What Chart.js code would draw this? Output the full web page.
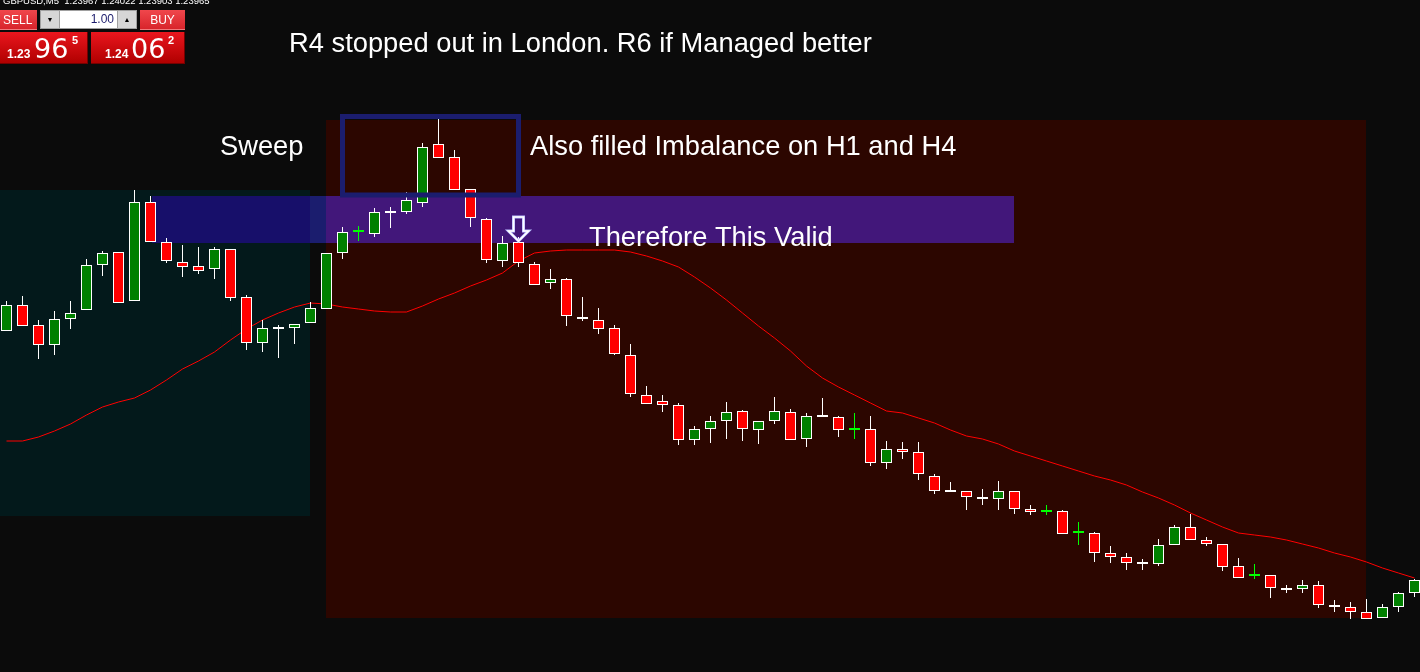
<!DOCTYPE html>
<html>
<head>
<meta charset="utf-8">
<title>GBPUSD,M5</title>
<script src="https://cdn.jsdelivr.net/npm/chart.js@4.4.1/dist/chart.umd.min.js"></script>
<style>
  html, body { margin: 0; padding: 0; background: #0b0b0b; overflow: hidden; }
  #stage { position: relative; width: 1420px; height: 672px; background: #0b0b0b; overflow: hidden; }
  #chart { position: absolute; left: 0; top: 0; }
  #panel { position: absolute; left: 0; top: 0; width: 190px; height: 66px; font-family: "Liberation Sans", Arial, sans-serif; }
  #panel div, #panel span { position: absolute; box-sizing: border-box; white-space: pre; }
  .hdr { left: 3px; top: -5px; color: #fff; font-size: 9.5px; line-height: 12px; }
  .btn { top: 10px; height: 20px; color: #fff; font-size: 12px; line-height: 20px;
         background: linear-gradient(#f0474c, #d8242b); border-bottom: 1px solid #f07a7d; }
  .sell { left: 0; width: 37px; padding-left: 3px; }
  .buy { left: 140px; width: 45px; text-align: center; }
  .lot { left: 40px; top: 10px; width: 97px; height: 19px; background: #fff; border: 1px solid #a0a0a0; }
  .lot .dn, .lot .up { top: 0; width: 19px; height: 17px; background: #d6d6d6; color: #000;
         font-size: 7px; line-height: 17px; text-align: center; }
  .lot .dn { left: 0; border-right: 1px solid #a0a0a0; }
  .lot .up { right: 0; border-left: 1px solid #a0a0a0; }
  .lot .val { right: 22px; top: 0; font-size: 12px; line-height: 17px; color: #1c1c6c; }
  .px { top: 32px; height: 32px; color: #fff; background: linear-gradient(#ea161e, #b00000);
        border-right: 1px solid #760000; border-bottom: 1px solid #760000; }
  .bid { left: 0; width: 88px; }
  .ask { left: 91px; width: 94px; }
  .px .s { top: 16px; font-size: 12px; font-weight: bold; line-height: 12px; }
  .px .b { top: 3px; font-family: "DejaVu Sans", sans-serif; font-size: 27px; line-height: 27px; }
  .px .p { top: 3px; font-size: 11px; font-weight: bold; line-height: 11px; }
</style>
</head>
<body>
<div id="stage">
  <canvas id="chart" width="1420" height="672"></canvas>
  <div id="panel">
    <div class="hdr">GBPUSD,M5  1.23967 1.24022 1.23903 1.23965</div>
    <div class="btn sell">SELL</div>
    <div class="lot"><span class="dn">&#9660;</span><span class="val">1.00</span><span class="up">&#9650;</span></div>
    <div class="btn buy">BUY</div>
    <div class="px bid"><span class="s" style="left:7px">1.23</span><span class="b" style="left:34px">96</span><span class="p" style="left:72px">5</span></div>
    <div class="px ask"><span class="s" style="left:14px">1.24</span><span class="b" style="left:40px">06</span><span class="p" style="left:77px">2</span></div>
  </div>
</div>
<script>
// GBPUSD M5 bars, London session
const opens = [
  1.24214, 1.24240, 1.24220, 1.24200, 1.24226, 1.24235, 1.24280, 1.24293, 1.24244, 1.24343,
  1.24303, 1.24283, 1.24279, 1.24276, 1.24296, 1.24248, 1.24202, 1.24216, 1.24217, 1.24222,
  1.24236, 1.24292, 1.24313, 1.24311, 1.24332, 1.24333, 1.24342, 1.24401, 1.24388, 1.24356,
  1.24326, 1.24284, 1.24303, 1.24281, 1.24262, 1.24266, 1.24228, 1.24225, 1.24217, 1.24190,
  1.24150, 1.24144, 1.24140, 1.24105, 1.24116, 1.24124, 1.24134, 1.24115, 1.24124, 1.24133,
  1.24106, 1.24128, 1.24128, 1.24115, 1.24116, 1.24082, 1.24096, 1.24093, 1.24069, 1.24054,
  1.24054, 1.24048, 1.24046, 1.24054, 1.24036, 1.24033, 1.24034, 1.24012, 1.24012, 1.23992,
  1.23988, 1.23981, 1.23981, 1.24000, 1.24018, 1.24005, 1.24001, 1.23979, 1.23969, 1.23970,
  1.23957, 1.23956, 1.23960, 1.23940, 1.23938, 1.23933, 1.23927, 1.23938, 1.23952
];
const highs = [
  1.24244, 1.24249, 1.24225, 1.24234, 1.24244, 1.24286, 1.24294, 1.24293, 1.24355, 1.24349,
  1.24307, 1.24300, 1.24298, 1.24298, 1.24296, 1.24250, 1.24225, 1.24220, 1.24221, 1.24243,
  1.24292, 1.24318, 1.24319, 1.24337, 1.24338, 1.24353, 1.24402, 1.24426, 1.24395, 1.24356,
  1.24327, 1.24309, 1.24308, 1.24283, 1.24276, 1.24267, 1.24248, 1.24237, 1.24220, 1.24201,
  1.24159, 1.24150, 1.24142, 1.24119, 1.24129, 1.24143, 1.24135, 1.24124, 1.24148, 1.24136,
  1.24132, 1.24147, 1.24129, 1.24132, 1.24129, 1.24104, 1.24103, 1.24103, 1.24071, 1.24063,
  1.24054, 1.24056, 1.24064, 1.24054, 1.24040, 1.24040, 1.24035, 1.24023, 1.24013, 1.23999,
  1.23992, 1.23986, 1.24006, 1.24020, 1.24031, 1.24008, 1.24001, 1.23987, 1.23981, 1.23970,
  1.23960, 1.23965, 1.23964, 1.23945, 1.23943, 1.23946, 1.23941, 1.23953, 1.23966
];
const lows = [
  1.24214, 1.24219, 1.24186, 1.24190, 1.24216, 1.24235, 1.24269, 1.24242, 1.24244, 1.24303,
  1.24282, 1.24268, 1.24271, 1.24266, 1.24244, 1.24195, 1.24193, 1.24187, 1.24201, 1.24222,
  1.24236, 1.24286, 1.24304, 1.24308, 1.24317, 1.24331, 1.24338, 1.24387, 1.24355, 1.24318,
  1.24282, 1.24278, 1.24278, 1.24260, 1.24256, 1.24219, 1.24224, 1.24211, 1.24190, 1.24148,
  1.24141, 1.24133, 1.24100, 1.24100, 1.24102, 1.24106, 1.24104, 1.24101, 1.24121, 1.24105,
  1.24098, 1.24128, 1.24108, 1.24106, 1.24079, 1.24076, 1.24086, 1.24065, 1.24051, 1.24053,
  1.24035, 1.24040, 1.24035, 1.24031, 1.24030, 1.24030, 1.24011, 1.24000, 1.23983, 1.23982,
  1.23975, 1.23975, 1.23979, 1.24000, 1.24005, 1.23999, 1.23974, 1.23967, 1.23966, 1.23947,
  1.23952, 1.23952, 1.23937, 1.23933, 1.23926, 1.23926, 1.23927, 1.23933, 1.23948
];
const closes = [
  1.24240, 1.24219, 1.24200, 1.24226, 1.24232, 1.24280, 1.24292, 1.24242, 1.24343, 1.24303,
  1.24284, 1.24278, 1.24274, 1.24296, 1.24247, 1.24202, 1.24217, 1.24217, 1.24221, 1.24237,
  1.24292, 1.24313, 1.24313, 1.24333, 1.24333, 1.24345, 1.24398, 1.24387, 1.24355, 1.24327,
  1.24285, 1.24302, 1.24282, 1.24260, 1.24266, 1.24229, 1.24226, 1.24216, 1.24191, 1.24151,
  1.24141, 1.24140, 1.24105, 1.24116, 1.24124, 1.24133, 1.24116, 1.24124, 1.24134, 1.24105,
  1.24129, 1.24130, 1.24115, 1.24115, 1.24082, 1.24096, 1.24093, 1.24071, 1.24054, 1.24053,
  1.24048, 1.24046, 1.24054, 1.24036, 1.24033, 1.24033, 1.24011, 1.24012, 1.23992, 1.23988,
  1.23982, 1.23983, 1.24000, 1.24018, 1.24005, 1.24001, 1.23978, 1.23967, 1.23969, 1.23957,
  1.23955, 1.23960, 1.23940, 1.23938, 1.23933, 1.23926, 1.23938, 1.23952, 1.23965
];
// moving average readings, one per bar
const movingAverage = [
  1.24104, 1.24104, 1.24108, 1.24114, 1.24121, 1.24130, 1.24138, 1.24143, 1.24147, 1.24155,
  1.24165, 1.24176, 1.24184, 1.24193, 1.24205, 1.24216, 1.24225, 1.24232, 1.24238, 1.24242,
  1.24241, 1.24238, 1.24236, 1.24234, 1.24233, 1.24233, 1.24239, 1.24246, 1.24252, 1.24259,
  1.24265, 1.24272, 1.24284, 1.24292, 1.24294, 1.24295, 1.24295, 1.24295, 1.24295, 1.24293,
  1.24289, 1.24284, 1.24278, 1.24268, 1.24257, 1.24245, 1.24232, 1.24219, 1.24207, 1.24194,
  1.24179, 1.24167, 1.24158, 1.24150, 1.24142, 1.24134, 1.24132, 1.24127, 1.24122, 1.24115,
  1.24109, 1.24106, 1.24101, 1.24094, 1.24089, 1.24084, 1.24079, 1.24074, 1.24069, 1.24065,
  1.24060, 1.24053, 1.24047, 1.24040, 1.24032, 1.24025, 1.24018, 1.24012, 1.24010, 1.24008,
  1.24005, 1.24001, 1.23997, 1.23992, 1.23988, 1.23983, 1.23977, 1.23972, 1.23967
];
const barIndex = opens.map((_, i) => i);

// visible window (bar index / price)
const viewBars = { min: -0.40625, max: 88.34375 };
const viewPrice = { min: 1.23873, max: 1.24545 };

// session rectangles drawn behind the bars
const sessions = [
  { from: -0.5, to: 19, top: 1.24355, bottom: 1.24029, fill: '#03191b', imbalanceFill: '#170f6a' },
  { from: 20,   to: 85, top: 1.24425, bottom: 1.23927, fill: '#2c0600', imbalanceFill: '#42177a' }
];
const imbalance = { from: 9.1, to: 63, top: 1.24349, bottom: 1.24302, fill: '#1b1d6e' };
const sweepBox = { from: 21, to: 32, top: 1.244285, bottom: 1.24350, stroke: '#1b1d6e', width: 5 };
const entryArrow = { bar: 32, price: 1.24303 };

const title = { text: 'R4 stopped out in London. R6 if Managed better', x: 289, y: 52 };
const notes = [
  { text: 'Sweep', x: 220, y: 155 },
  { text: 'Also filled Imbalance on H1 and H4', x: 530, y: 155 },
  { text: 'Therefore This Valid', x: 589, y: 246 }
];

const BULL = '#008000', BEAR = '#ff0000', DOJI = '#00ff00', EDGE = '#ffffff';
const isDoji = i => opens[i] === closes[i];

const overlays = {
  id: 'overlays',
  beforeDatasetsDraw(chart) {
    const { ctx, chartArea: a, scales: { x, y } } = chart;
    const box = z => ({
      l: Math.floor(x.getPixelForValue(z.from) + 1e-6),
      r: Math.floor(x.getPixelForValue(z.to) + 1e-6),
      t: Math.round(y.getPixelForValue(z.top)),
      b: Math.round(y.getPixelForValue(z.bottom))
    });
    ctx.save();
    ctx.beginPath();
    ctx.rect(a.left, a.top, a.right - a.left, a.bottom - a.top);
    ctx.clip();
    sessions.forEach(s => {
      const r = box(s);
      ctx.fillStyle = s.fill;
      ctx.fillRect(r.l, r.t, r.r - r.l, r.b - r.t);
    });
    const band = box(imbalance);
    ctx.fillStyle = imbalance.fill;
    ctx.fillRect(band.l, band.t, band.r - band.l, band.b - band.t);
    sessions.forEach(s => {
      const r = box(s);
      const l = Math.max(r.l, band.l), rr = Math.min(r.r, band.r);
      const t = Math.max(r.t, band.t), b = Math.min(r.b, band.b);
      if (l < rr && t < b) {
        ctx.fillStyle = s.imbalanceFill;
        ctx.fillRect(l, t, rr - l, b - t);
      }
    });
    ctx.restore();
  },
  afterDatasetsDraw(chart) {
    const { ctx, scales: { x, y } } = chart;
    ctx.save();
    // sweep rectangle outline
    const l = x.getPixelForValue(sweepBox.from), r = x.getPixelForValue(sweepBox.to);
    const t = y.getPixelForValue(sweepBox.top), b = y.getPixelForValue(sweepBox.bottom);
    ctx.strokeStyle = sweepBox.stroke;
    ctx.lineWidth = sweepBox.width;
    ctx.lineJoin = 'miter';
    ctx.strokeRect(l, t, r - l, b - t);

    // hollow down arrow above the entry bar
    const tx = x.getPixelForValue(entryArrow.bar);
    const ty = y.getPixelForValue(entryArrow.price);
    ctx.beginPath();
    ctx.moveTo(tx - 5, ty - 25);
    ctx.lineTo(tx + 5, ty - 25);
    ctx.lineTo(tx + 5, ty - 11);
    ctx.lineTo(tx + 10, ty - 11);
    ctx.lineTo(tx, ty - 1);
    ctx.lineTo(tx - 10, ty - 11);
    ctx.lineTo(tx - 5, ty - 11);
    ctx.closePath();
    ctx.strokeStyle = '#b8bcff';
    ctx.lineWidth = 3;
    ctx.stroke();
    ctx.strokeStyle = '#ffffff';
    ctx.lineWidth = 1.6;
    ctx.stroke();

    // text labels
    ctx.fillStyle = '#ffffff';
    ctx.font = '27.3px "Liberation Sans", Arial, sans-serif';
    ctx.textBaseline = 'alphabetic';
    ctx.textAlign = 'left';
    ctx.fillText(title.text, title.x, title.y);
    notes.forEach(n => ctx.fillText(n.text, n.x, n.y));
    ctx.restore();
  }
};

new Chart(document.getElementById('chart'), {
  type: 'bar',
  data: {
    datasets: [
      {
        label: 'Body',
        order: 0,
        data: barIndex.map(i => ({ x: i, y: [opens[i], closes[i]] })),
        barThickness: 11,
        minBarLength: 2,
        grouped: false,
        borderSkipped: false,
        inflateAmount: 0,
        borderWidth: 1,
        borderColor: c => isDoji(c.dataIndex) ? DOJI : EDGE,
        backgroundColor: c => {
          const i = c.dataIndex;
          if (isDoji(i)) return DOJI;
          return closes[i] > opens[i] ? BULL : BEAR;
        }
      },
      {
        label: 'Wick',
        order: 1,
        data: barIndex.map(i => ({ x: i, y: [lows[i], highs[i]] })),
        barThickness: 1,
        grouped: false,
        borderSkipped: false,
        inflateAmount: 0,
        borderWidth: 0,
        backgroundColor: c => isDoji(c.dataIndex) ? DOJI : EDGE
      },
      {
        type: 'line',
        label: 'MA',
        order: 2,
        data: barIndex.map(i => ({ x: i, y: movingAverage[i] })),
        borderColor: '#ff0000',
        borderWidth: 1,
        pointRadius: 0,
        tension: 0,
        fill: false
      }
    ]
  },
  options: {
    responsive: false,
    animation: false,
    devicePixelRatio: 1,
    events: [],
    layout: { padding: 0 },
    plugins: { legend: { display: false }, tooltip: { enabled: false }, title: { display: false } },
    scales: {
      x: { type: 'linear', display: false, offset: false, min: viewBars.min, max: viewBars.max },
      y: { type: 'linear', display: false, min: viewPrice.min, max: viewPrice.max }
    }
  },
  plugins: [overlays]
});
</script>
</body>
</html>
